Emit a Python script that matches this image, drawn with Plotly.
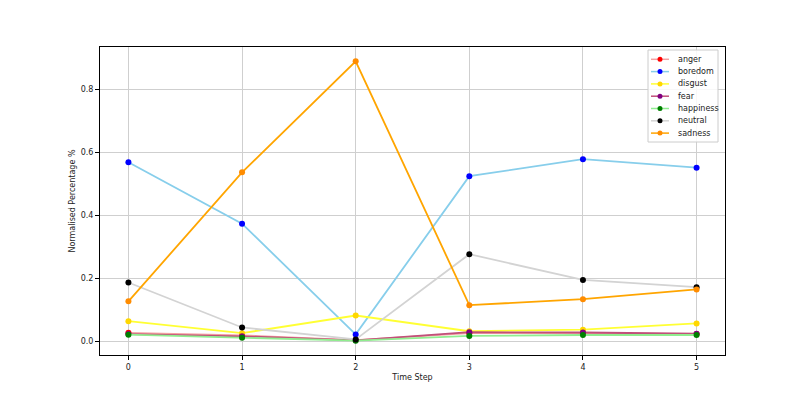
import plotly.graph_objects as go

time_steps = [0, 1, 2, 3, 4, 5]
anger = [0.026, 0.018, 0.003, 0.025, 0.025, 0.022]
boredom = [0.568, 0.373, 0.021, 0.524, 0.578, 0.551]
disgust = [0.063, 0.025, 0.081, 0.031, 0.036, 0.056]
fear = [0.022, 0.015, 0.002, 0.028, 0.027, 0.023]
happiness = [0.020, 0.010, 0.001, 0.016, 0.019, 0.019]
neutral = [0.186, 0.043, 0.005, 0.276, 0.194, 0.171]
sadness = [0.126, 0.536, 0.889, 0.114, 0.133, 0.164]

series = [
    ("anger", anger, "#f4a0a0", "red"),
    ("boredom", boredom, "skyblue", "blue"),
    ("disgust", disgust, "#ffff33", "#ffd700"),
    ("fear", fear, "#c0507a", "purple"),
    ("happiness", happiness, "lightgreen", "green"),
    ("neutral", neutral, "lightgray", "black"),
    ("sadness", sadness, "orange", "darkorange"),
]

fig = go.Figure()
for name, vals, lc, mc in series:
    fig.add_trace(go.Scatter(
        x=time_steps, y=vals, name=name, mode="lines+markers",
        line=dict(color=lc, width=1.8),
        marker=dict(color=mc, size=6),
        showlegend=False,
    ))

# Compact matplotlib-style legend (paper coordinates)
PW, PH = 625.0, 308.0
def px(dx):
    return dx / PW
def py(dy):
    return 1 - dy / PH

shapes = [dict(type="rect", xref="paper", yref="paper",
               x0=px(548), x1=px(618), y0=py(95), y1=py(3),
               line=dict(color="#cccccc", width=1),
               fillcolor="rgba(255,255,255,0.85)", layer="above")]
annotations = []
for i, (name, vals, lc, mc) in enumerate(series):
    yc = py(12.3 + 12.3 * i)
    shapes.append(dict(type="line", xref="paper", yref="paper",
                       x0=px(551), x1=px(569), y0=yc, y1=yc,
                       line=dict(color=lc, width=1.5), layer="above"))
    shapes.append(dict(type="circle", xref="paper", yref="paper",
                       xsizemode="pixel", ysizemode="pixel",
                       xanchor=px(560), yanchor=yc,
                       x0=-2.5, x1=2.5, y0=-2.5, y1=2.5,
                       fillcolor=mc, line=dict(color=mc, width=0), layer="above"))
    annotations.append(dict(xref="paper", yref="paper", x=px(576), y=yc,
                            xanchor="left", yanchor="middle", text=name,
                            showarrow=False, font=dict(size=8, color="#222")))

axis_common = dict(
    showline=True, mirror=True, linecolor="black", linewidth=1,
    showgrid=True, gridcolor="#cfcfcf", gridwidth=1,
    ticks="outside", ticklen=4, tickcolor="black",
    zeroline=False, tickfont=dict(size=8, color="#222"),
)

fig.update_layout(
    width=806, height=399,
    margin=dict(l=92, r=89, t=39, b=52),
    paper_bgcolor="white", plot_bgcolor="white",
    font=dict(family="DejaVu Sans", size=8, color="#222"),
    xaxis=dict(range=[-0.25, 5.25], tickvals=time_steps,
               title=dict(text="Time Step", font=dict(size=8), standoff=3),
               **axis_common),
    yaxis=dict(range=[-0.0445, 0.9345], tickvals=[0, 0.2, 0.4, 0.6, 0.8],
               tickformat=".1f",
               title=dict(text="Normalised Percentage %", font=dict(size=8), standoff=3),
               **axis_common),
    shapes=shapes,
    annotations=annotations,
    showlegend=False,
)

fig.write_html("out.html")
